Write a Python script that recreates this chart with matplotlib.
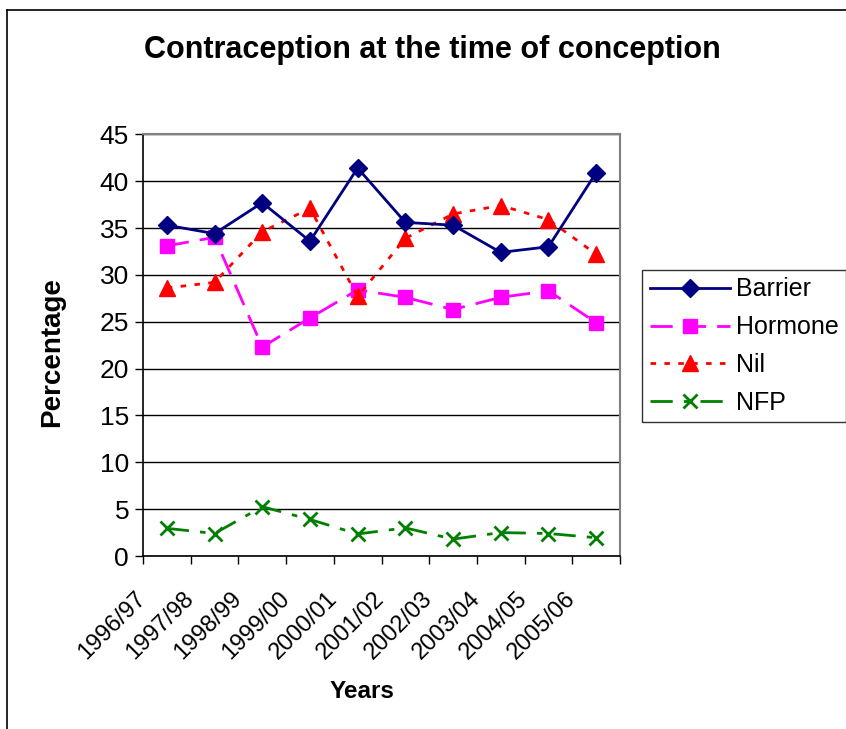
import matplotlib
matplotlib.use("Agg")
import matplotlib.pyplot as plt
from matplotlib.lines import Line2D
import matplotlib.transforms as mtransforms

plt.rcParams['font.family'] = ['Liberation Sans', 'DejaVu Sans']

years = ["1996/97", "1997/98", "1998/99", "1999/00", "2000/01",
         "2001/02", "2002/03", "2003/04", "2004/05", "2005/06"]
barrier = [35.3, 34.4, 37.7, 33.6, 41.4, 35.6, 35.3, 32.4, 33.0, 40.9]
hormone = [33.1, 34.0, 22.3, 25.4, 28.4, 27.6, 26.3, 27.6, 28.3, 24.9]
nil = [28.6, 29.2, 34.6, 37.1, 27.7, 33.9, 36.5, 37.4, 35.9, 32.2]
nfp = [2.95, 2.4, 5.26, 3.9, 2.35, 3.0, 1.8, 2.5, 2.4, 1.95]
yticks = [0, 5, 10, 15, 20, 25, 30, 35, 40, 45]

W, H = 846, 729
fig = plt.figure(figsize=(W / 100, H / 100), dpi=100)
fig.patch.set_facecolor('white')

# outer chart border (left and top visible)
fig.add_artist(Line2D([7 / W, 7 / W], [0, 1 - 10 / H], transform=fig.transFigure,
                      color='black', lw=1.2))
fig.add_artist(Line2D([7 / W, 1], [1 - 10 / H, 1 - 10 / H], transform=fig.transFigure,
                      color='black', lw=1.2))

ax = fig.add_axes([143 / W, (H - 556) / H, (620 - 143) / W, (556 - 134.3) / H])
x = list(range(len(years)))

ax.plot(x, barrier, color='#000080', lw=2, marker='D', ms=9,
        markeredgecolor='#000080', label='Barrier', zorder=4)
ax.plot(x, hormone, color='#FF00FF', lw=2, ls=(0, (8, 4)), marker='s', ms=10,
        markeredgecolor='#FF00FF', label='Hormone', zorder=3)
ax.plot(x, nil, color='#FF0000', lw=2, ls=(0, (2, 3)), marker='^', ms=11,
        markeredgecolor='#FF0000', label='Nil', zorder=3)
ax.plot(x, nfp, color='#008000', lw=2, ls=(0, (8, 4, 2, 4)), marker='x', ms=10,
        mew=2, label='NFP', zorder=3)

ax.set_xlim(-0.5, len(years) - 0.5)
ax.set_ylim(0, 45)
ax.set_yticks(yticks)
ax.set_yticklabels([str(v) for v in yticks], fontsize=19)
ax.yaxis.grid(True, color='black', lw=1)
ax.set_axisbelow(True)

ax.set_xticks(x)
ax.set_xticklabels(years, fontsize=17, rotation=45, ha='right', va='center',
                   rotation_mode='anchor')
ax.set_xticks([i - 0.5 for i in range(len(years) + 1)], minor=True)
ax.tick_params(axis='x', which='major', length=0, pad=28)
ax.tick_params(axis='x', which='minor', length=6, width=1, direction='out')
ax.tick_params(axis='y', length=6, width=1, direction='out', pad=4)
offset = mtransforms.ScaledTranslation(-24 / 100, 0, fig.dpi_scale_trans)
for lbl in ax.get_xticklabels():
    lbl.set_transform(lbl.get_transform() + offset)

for s in ['top', 'right']:
    ax.spines[s].set_color('#808080')
    ax.spines[s].set_linewidth(1.5)
for s in ['left', 'bottom']:
    ax.spines[s].set_color('black')
    ax.spines[s].set_linewidth(1.2)

fig.text(52 / W, 1 - 352 / H, 'Percentage', fontsize=20, fontweight='bold',
         rotation=90, ha='center', va='center')
fig.text(362 / W, 1 - 692 / H, 'Years', fontsize=17.5, fontweight='bold',
         ha='center', va='center')
fig.text(432 / W, 1 - 50 / H, 'Contraception at the time of conception',
         fontsize=22, fontweight='bold', ha='center', va='center')

leg = fig.legend(loc='upper left', bbox_to_anchor=(642 / W, 1 - 270 / H),
                 fontsize=18, frameon=True, fancybox=False, handlelength=3.2,
                 handletextpad=0.25, labelspacing=0.55, borderpad=0.3,
                 borderaxespad=0)
leg.get_frame().set_edgecolor('black')
leg.get_frame().set_linewidth(1)

fig.savefig('out.png', dpi=100, facecolor='white')
